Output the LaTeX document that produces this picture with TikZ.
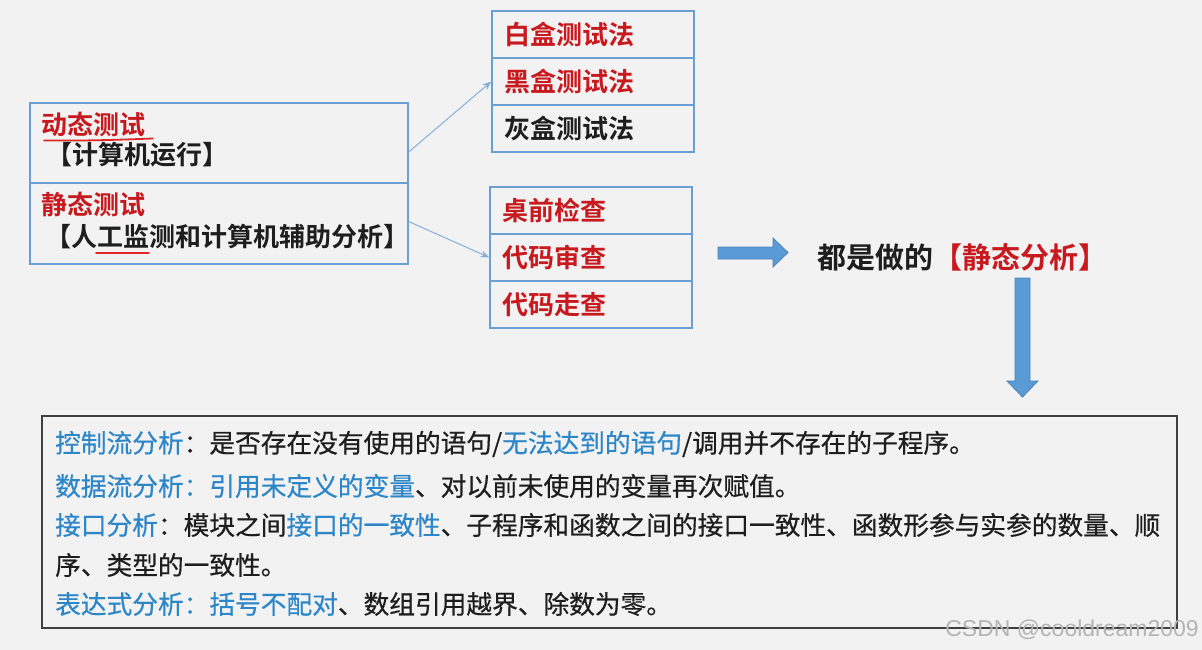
\documentclass[tikz,border=0pt]{standalone}
\usepackage{fontspec}
\setmainfont{Liberation Sans}
\newfontfamily\cjk[FakeBold=0.5]{Noto Sans CJK SC}
\newfontfamily\cjkb{Noto Sans CJK SC Bold}
\usetikzlibrary{arrows.meta}
\definecolor{bg}{HTML}{F2F2F2}
\definecolor{boxblue}{HTML}{6A9FD2}
\definecolor{txtred}{HTML}{C8191E}
\definecolor{txtblue}{HTML}{2C86C8}
\definecolor{txtblack}{HTML}{1E1E1E}
\definecolor{arrfill}{HTML}{5B9BD5}
\definecolor{arrline}{HTML}{4A82BA}
\definecolor{connblue}{HTML}{86AEDB}
\definecolor{uline}{HTML}{E02828}
\definecolor{wmgray}{HTML}{B4B4B4}
\tikzset{
  cellbox/.style={draw=boxblue, line width=1.3pt, rectangle, inner sep=0pt},
  rowcell/.style={cellbox, minimum width=202pt, minimum height=47pt, text width=178pt, inner xsep=12pt, align=left, font=\cjkb\fontsize{26pt}{28pt}\selectfont},
  ltxt/.style={anchor=west, inner sep=0pt, font=\cjkb\fontsize{26pt}{28pt}\selectfont},
  btxt/.style={anchor=west, inner sep=0pt, font=\cjk\fontsize{25.7pt}{28pt}\selectfont, text=txtblack},
  conn/.style={draw=connblue, line width=1pt, -{Stealth[length=9pt,width=7pt]}},
  blockarrow/.style={fill=arrfill, draw=arrline, line width=0.8pt},
  redline/.style={draw=uline, line width=1.8pt, line cap=round},
}
\begin{document}
\begin{tikzpicture}[x=1pt, y=-1pt]
\fill[bg] (0,0) rectangle (1202,650);
\useasboundingbox (0,0) rectangle (1202,650);

% left box
\node[cellbox, minimum width=378pt, minimum height=80pt] (ldyn) at (219,143) {};
\node[cellbox, minimum width=378pt, minimum height=81pt] (lsta) at (219,223.5) {};
\node[ltxt, text=txtred] (t1) at (41,124) {动态测试};
\node[ltxt, text=txtblack] (t2) at (46,155) {【计算机运行】};
\node[ltxt, text=txtred] (t3) at (41,204) {静态测试};
\node[ltxt, text=txtblack] (t4) at (45,237) {【人工监测和计算机辅助分析】};
\draw[redline] (44,140.5) .. controls (90,141) and (125,139.5) .. (153,138.5);
\draw[redline] (96,253) -- (149,253);

% top right box
\node[rowcell, text=txtred] (w1) at (593,34.5) {白盒测试法};
\node[rowcell, text=txtred] (w2) at (593,81.5) {黑盒测试法};
\node[rowcell, text=txtblack] (w3) at (593,128.5) {灰盒测试法};

% second right box
\node[rowcell, text=txtred] (c1) at (591,210.5) {桌前检查};
\node[rowcell, text=txtred] (c2) at (591,257.5) {代码审查};
\node[rowcell, text=txtred] (c3) at (591,304.5) {代码走查};

% connectors
\draw[conn] ([yshift=-9pt]ldyn.east) -- (w2.west);
\draw[conn] ([yshift=2pt]lsta.east) -- (c2.west);

% block arrows
\draw[blockarrow] (718,247) -- (773,247) -- (773,238) -- (788,252.5) -- (773,267) -- (773,259) -- (718,259) -- cycle;
\node[anchor=west, inner sep=0pt, font=\cjkb\fontsize{29pt}{31pt}\selectfont, text=txtblack] (sa) at (817,257) {都是做的\textcolor{txtred}{【静态分析】}};
\draw[blockarrow] (1015,278) -- (1030,278) -- (1030,381) -- (1038,381) -- (1022.5,397) -- (1007,381) -- (1015,381) -- cycle;

% bottom box
\node[draw=black!75, line width=1.6pt, rectangle, minimum width=1135pt, minimum height=212pt, inner sep=0pt] (bb) at (609.5,522) {};
\node[btxt] (b1) at (55,444) {\textcolor{txtblue}{控制流分析}：是否存在没有使用的语句/\textcolor{txtblue}{无法达到的语句}/调用并不存在的子程序。};
\node[btxt] (b2) at (55,486) {\textcolor{txtblue}{数据流分析：引用未定义的变量}、对以前未使用的变量再次赋值。};
\node[btxt] (b3) at (55,525) {\textcolor{txtblue}{接口分析}：模块之间\textcolor{txtblue}{接口的一致性}、子程序和函数之间的接口一致性、函数形参与实参的数量、顺};
\node[btxt] (b4) at (55,565) {序、类型的一致性。};
\node[btxt] (b5) at (55,604) {\textcolor{txtblue}{表达式分析：括号不配对}、数组引用越界、除数为零。};

% watermark
\node[anchor=east, inner sep=0pt, font=\fontsize{23pt}{25pt}\selectfont, text=wmgray] (wm) at (1199,630) {CSDN @cooldream2009};
\end{tikzpicture}
\end{document}
